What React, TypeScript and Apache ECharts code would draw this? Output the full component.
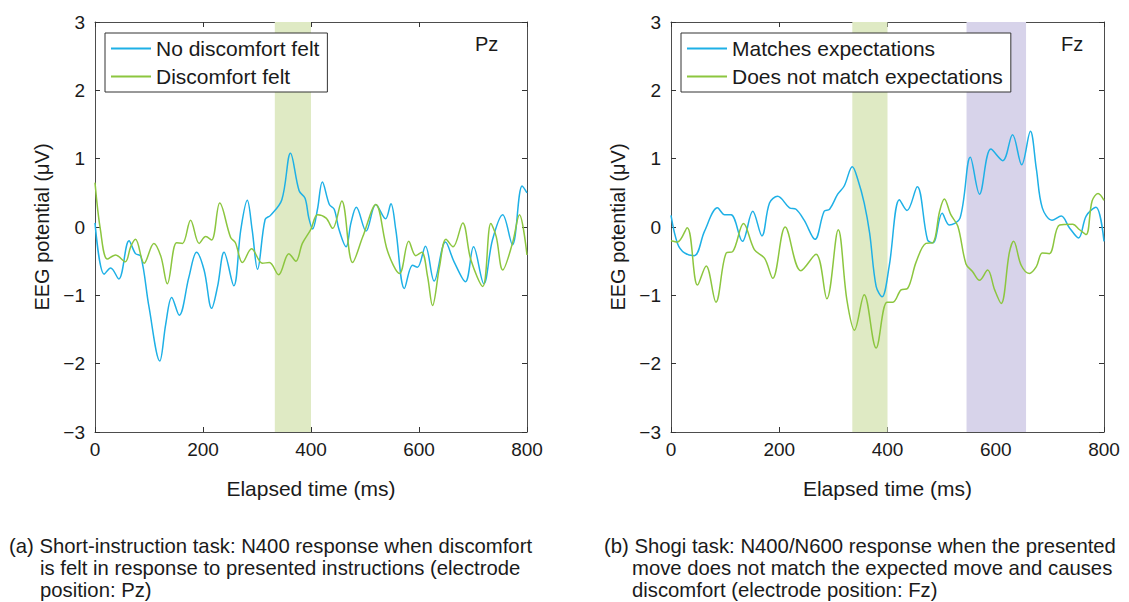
import React, { useEffect, useRef } from "react";
import * as echarts from "echarts";

// ---------- data ----------
const timeTicks = [0, 200, 400, 600, 800];
const potentialTicks = [-3, -2, -1, 0, 1, 2, 3];

// Panel (a) Pz: [elapsed ms, potential µV]
const pzNoDiscomfort: number[][] = [
  [0, 0.06], [17, -0.69], [29, -0.6], [44, -0.76], [63, -0.2], [75, -0.39], [85, -0.43],
  [100, -1.17], [120, -1.96], [131, -1.42], [142, -1.03], [156, -1.29], [174, -0.73],
  [188, -0.37], [202, -0.63], [216, -1.19], [227, -0.87], [239, -0.37], [257, -0.86],
  [270, -0.04], [282, 0.39], [291, -0.04], [301, -0.62], [315, 0.11], [325, 0.17],
  [346, 0.4], [362, 1.08], [378, 0.53], [389, 0.42], [396, 0.13], [403, -0.03],
  [412, 0.26], [421, 0.66], [434, 0.33], [443, 0.26], [452, -0.04], [465, -0.29],
  [474, 0.06], [484, 0.29], [502, -0.06], [520, 0.33], [538, 0.12], [548, 0.34],
  [557, -0.04], [573, -0.9], [588, -0.56], [597, -0.59], [612, -0.28], [628, -0.79],
  [649, -0.22], [665, -0.51], [686, -0.8], [701, -0.29], [720, -0.83], [736, -0.19],
  [755, 0.18], [773, -0.26], [791, 0.6], [800, 0.5],
];
const pzDiscomfort: number[][] = [
  [0, 0.65], [10, -0.04], [23, -0.47], [38, -0.41], [56, -0.51], [66, -0.29], [75, -0.18],
  [91, -0.53], [109, -0.24], [122, -0.43], [134, -0.83], [151, -0.23], [162, -0.24],
  [177, 0.1], [193, -0.24], [205, -0.14], [216, -0.19], [231, 0.35], [251, -0.15],
  [260, -0.23], [273, -0.52], [290, -0.32], [310, -0.53], [323, -0.52], [340, -0.7],
  [359, -0.39], [372, -0.5], [384, -0.24], [400, -0.03], [412, 0.18], [428, 0.13],
  [440, -0.02], [457, 0.38], [477, -0.52], [496, -0.14], [520, 0.33], [542, -0.36],
  [564, -0.68], [581, -0.21], [594, -0.42], [605, -0.37], [616, -0.73], [625, -1.15],
  [638, -0.58], [650, -0.18], [663, -0.29], [681, 0.06], [696, -0.48], [718, -0.87],
  [733, 0.05], [743, -0.14], [755, -0.63], [773, -0.24], [786, 0.18], [800, -0.41],
];

// Panel (b) Fz
const fzMatches: number[][] = [
  [0, 0.17], [12, -0.24], [25, -0.38], [43, -0.42], [62, -0.06], [86, 0.28], [99, 0.18],
  [111, 0.18], [132, -0.21], [151, 0.23], [168, -0.13], [182, 0.35], [197, 0.45],
  [219, 0.28], [231, 0.26], [246, 0.1], [266, -0.18], [283, 0.23], [293, 0.26],
  [308, 0.48], [320, 0.6], [335, 0.88], [345, 0.7], [357, 0.35], [367, -0.09],
  [379, -0.87], [390, -1.02], [403, -0.58], [422, 0.4], [436, 0.24], [455, 0.59],
  [474, -0.19], [484, -0.23], [501, 0.2], [514, 0.03], [534, 0.13], [553, 1.02],
  [570, 0.48], [591, 1.14], [613, 0.97], [631, 1.35], [648, 0.91], [664, 1.4],
  [675, 0.85], [686, 0.28], [704, 0.1], [721, 0.16], [736, -0.01], [753, -0.16],
  [767, 0.16], [785, 0.29], [800, -0.21],
];
const fzNotMatch: number[][] = [
  [0, -0.2], [12, -0.22], [30, -0.01], [49, -0.85], [65, -0.57], [83, -1.1], [102, -0.38],
  [114, -0.36], [134, 0.05], [154, -0.33], [173, -0.46], [188, -0.75], [211, 0],
  [240, -0.64], [268, -0.4], [288, -1.05], [309, -0.04], [325, -1.07], [339, -1.51],
  [357, -0.99], [379, -1.77], [399, -1.1], [410, -1.1], [425, -0.92], [437, -0.9],
  [453, -0.51], [471, -0.24], [484, -0.23], [496, 0.22], [505, 0.41], [517, 0.18],
  [530, 0.01], [545, -0.54], [557, -0.65], [570, -0.78], [585, -0.63], [598, -0.92],
  [610, -1.12], [625, -0.38], [633, -0.21], [647, -0.56], [662, -0.68], [675, -0.58],
  [686, -0.38], [699, -0.39], [718, 0.03], [742, 0.04], [755, -0.04], [767, -0.11],
  [778, 0.38], [789, 0.49], [800, 0.39],
];

// highlighted windows (ms)
const pzN400Window = [333, 400];
const fzN400Window = [335, 400];
const fzN600Window = [546, 656];

const legendA = ["No discomfort felt", "Discomfort felt"];
const legendB = ["Matches expectations", "Does not match expectations"];

const captionA = [
  "(a) Short-instruction task: N400 response when discomfort",
  "is felt in response to presented instructions (electrode",
  "position: Pz)",
];
const captionB = [
  "(b) Shogi task: N400/N600 response when the presented",
  "move does not match the expected move and causes",
  "discomfort (electrode position: Fz)",
];

// ---------- styles ----------
const FONT = "'Liberation Sans', Arial, Helvetica, sans-serif";
const TXT = "#1a1a1a";
const BLUE = "#1eb0e6";
const GREEN = "#8cc63f";
const GREEN_BAND = "#dfeac4";
const PURPLE_BAND = "#d7d3ea";
const AXIS = "#4d4d4d";

const minusFmt = (v: number) => (v < 0 ? "\u2212" + Math.abs(v) : String(v));

function xAxisDef(gridIndex: number, position: "top" | "bottom", main: boolean) {
  return {
    type: "value",
    gridIndex,
    position,
    min: timeTicks[0],
    max: timeTicks[timeTicks.length - 1],
    interval: timeTicks[1] - timeTicks[0],
    axisLine: { show: true, onZero: false, lineStyle: { color: AXIS, width: 1 } },
    axisTick: { show: true, inside: true, length: 5, lineStyle: { color: "#333" } },
    axisLabel: { show: main, fontSize: 19, color: TXT, fontFamily: FONT, margin: 8, formatter: minusFmt },
    splitLine: { show: false },
    name: main ? "Elapsed time (ms)" : "",
    nameLocation: "middle",
    nameGap: 46,
    nameTextStyle: { fontSize: 21, color: TXT, fontFamily: FONT },
  };
}

function yAxisDef(gridIndex: number, position: "left" | "right", main: boolean) {
  return {
    type: "value",
    gridIndex,
    position,
    min: potentialTicks[0],
    max: potentialTicks[potentialTicks.length - 1],
    interval: potentialTicks[1] - potentialTicks[0],
    axisLine: { show: true, onZero: false, lineStyle: { color: AXIS, width: 1 } },
    axisTick: { show: true, inside: true, length: 5, lineStyle: { color: "#333" } },
    axisLabel: { show: main, fontSize: 19, color: TXT, fontFamily: FONT, margin: 10, formatter: minusFmt },
    splitLine: { show: false },
    name: main ? "EEG potential (\u03bcV)" : "",
    nameLocation: "middle",
    nameGap: 43,
    nameTextStyle: { fontSize: 20, color: TXT, fontFamily: FONT },
  };
}

function lineSeries(name: string, data: number[][], color: string, axisIdx: number) {
  return {
    type: "line",
    name,
    xAxisIndex: axisIdx,
    yAxisIndex: axisIdx,
    data,
    symbol: "none",
    smooth: 0.35,
    lineStyle: { color, width: 1.5 },
    itemStyle: { color },
    z: 3,
  };
}

function legendDef(left: number, names: string[]) {
  return {
    orient: "vertical",
    left,
    top: 33,
    padding: [5, 8, 5, 6],
    icon: "rect",
    itemWidth: 40,
    itemHeight: 2,
    itemGap: 7,
    itemTextGap: 6,
    borderColor: "#333",
    borderWidth: 1,
    backgroundColor: "#fff",
    textStyle: { fontSize: 21, lineHeight: 20, color: TXT, fontFamily: FONT },
    data: names,
    selectedMode: false,
  };
}

function captionTexts(lines: string[], x0: number, xIndent: number) {
  return lines.map((t, i) => ({
    type: "text",
    x: i === 0 ? x0 : xIndent,
    y: 546 + i * 22,
    silent: true,
    style: { text: t, fontSize: 20.3, fontFamily: FONT, fill: TXT, verticalAlign: "middle", align: "left" },
  }));
}

export default function App() {
  const ref = useRef<HTMLDivElement>(null);

  useEffect(() => {
    if (!ref.current) return;
    const chart = echarts.init(ref.current, undefined, { renderer: "svg" });
    const option: any = {
      animation: false,
      backgroundColor: "#fff",
      grid: [
        { left: 95, top: 22, width: 432, height: 410 },
        { left: 671, top: 22, width: 433, height: 410 },
      ],
      xAxis: [
        xAxisDef(0, "bottom", true),
        xAxisDef(0, "top", false),
        xAxisDef(1, "bottom", true),
        xAxisDef(1, "top", false),
      ],
      yAxis: [
        yAxisDef(0, "left", true),
        yAxisDef(0, "right", false),
        yAxisDef(1, "left", true),
        yAxisDef(1, "right", false),
      ],
      legend: [legendDef(105, legendA), legendDef(681, legendB)],
      series: [
        {
          type: "line",
          xAxisIndex: 0,
          yAxisIndex: 0,
          data: [],
          silent: true,
          z: 1,
          markArea: {
            silent: true,
            itemStyle: { color: GREEN_BAND },
            data: [[{ xAxis: pzN400Window[0] }, { xAxis: pzN400Window[1] }]],
          },
        },
        {
          type: "line",
          xAxisIndex: 2,
          yAxisIndex: 2,
          data: [],
          silent: true,
          z: 1,
          markArea: {
            silent: true,
            data: [
              [{ xAxis: fzN400Window[0], itemStyle: { color: GREEN_BAND } }, { xAxis: fzN400Window[1] }],
              [{ xAxis: fzN600Window[0], itemStyle: { color: PURPLE_BAND } }, { xAxis: fzN600Window[1] }],
            ],
          },
        },
        lineSeries(legendA[0], pzNoDiscomfort, BLUE, 0),
        lineSeries(legendA[1], pzDiscomfort, GREEN, 0),
        lineSeries(legendB[0], fzMatches, BLUE, 2),
        lineSeries(legendB[1], fzNotMatch, GREEN, 2),
      ],
      graphic: [
        {
          type: "text",
          x: 475,
          y: 44,
          silent: true,
          style: { text: "Pz", fontSize: 20, fontFamily: FONT, fill: TXT, verticalAlign: "middle" },
        },
        {
          type: "text",
          x: 1061,
          y: 44,
          silent: true,
          style: { text: "Fz", fontSize: 20, fontFamily: FONT, fill: TXT, verticalAlign: "middle" },
        },
        ...captionTexts(captionA, 9, 40),
        ...captionTexts(captionB, 604, 632),
      ],
    };
    chart.setOption(option);
    return () => chart.dispose();
  }, []);

  return (
    <div
      ref={ref}
      style={{ position: "fixed", left: 0, top: 0, width: 1129, height: 602, background: "#fff" }}
    />
  );
}
